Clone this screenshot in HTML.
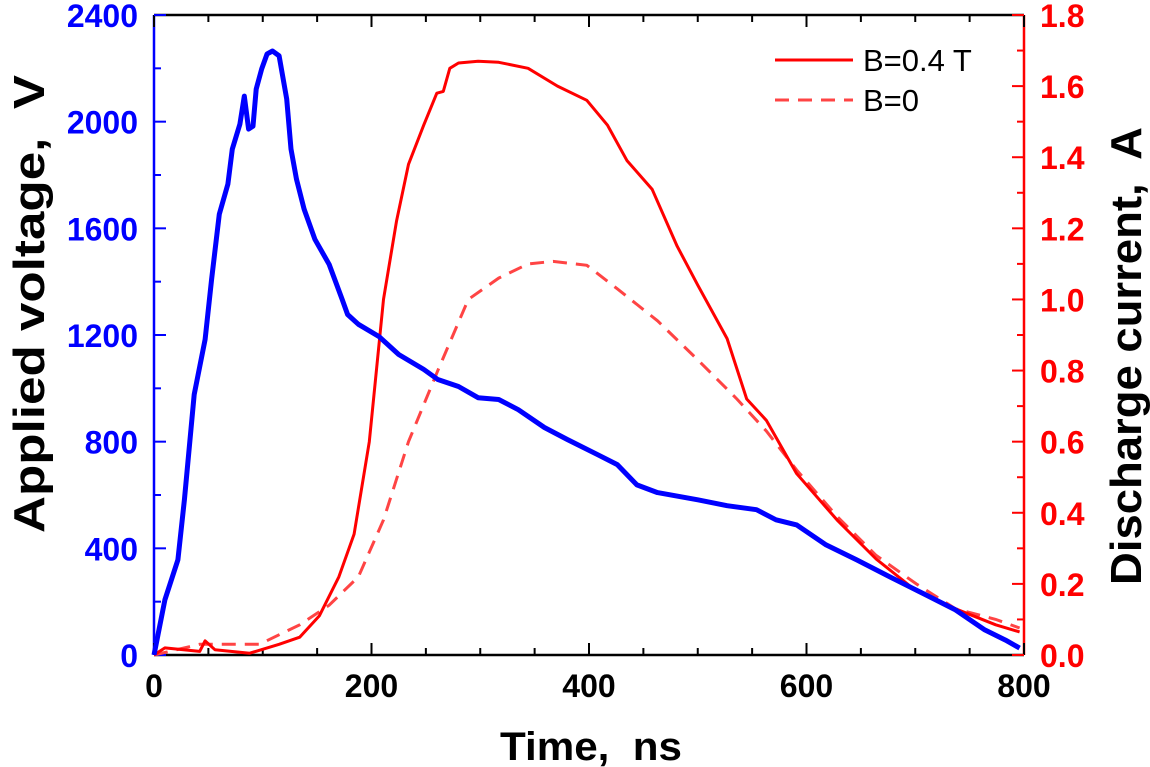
<!DOCTYPE html>
<html><head><meta charset="utf-8"><style>
html,body{margin:0;padding:0;background:#fff;}
svg{display:block;font-family:"Liberation Sans",Arial,sans-serif;}
</style></head><body>
<svg id="chart" width="1150" height="767" viewBox="0 0 1150 767"></svg>
<script>
const voltTime=[0,10,22,28,37,47,53,60,68,72,79,83,87,91,94,99,104,109,115,122,126,131,138,148,161,173,178,188,207,225,248,261,280,298,317,335,359,380,408,426,444,463,500,527,554,572,591,618,646,682,710,737,764,783,796];
const voltValues=[0,207,357,582,977,1183,1409,1653,1766,1897,1991,2096,1972,1983,2122,2198,2254,2265,2247,2085,1897,1784,1672,1559,1465,1334,1277,1240,1194,1127,1071,1033,1007,965,958,920,853,808,751,714,638,609,582,560,545,507,488,413,357,282,225,169,94,56,26];
const curBTime=[0,10,42,47,56,88,115,134,152,170,184,198,211,223,234,248,260,266,272,280,298,317,344,371,398,417,435,458,481,500,527,545,563,591,628,664,701,737,774,796];
const curBValues=[0,0.02,0.01,0.04,0.015,0.005,0.03,0.05,0.11,0.22,0.34,0.6,1.0,1.22,1.38,1.49,1.58,1.585,1.65,1.665,1.67,1.667,1.65,1.6,1.56,1.49,1.39,1.31,1.15,1.04,0.89,0.72,0.66,0.51,0.38,0.27,0.18,0.13,0.085,0.065];
const cur0Time=[0,42,97,134,161,188,211,234,261,289,317,344,367,398,426,463,500,536,563,591,628,664,701,737,774,796];
const cur0Values=[0,0.03,0.03,0.085,0.14,0.22,0.38,0.6,0.8,1.0,1.06,1.1,1.107,1.096,1.03,0.94,0.83,0.72,0.63,0.52,0.39,0.28,0.2,0.13,0.1,0.076];
const xTicks=[0,200,400,600,800];
const yLeftTicks=[0,400,800,1200,1600,2000,2400];
const yRightTicks=[0,0.2,0.4,0.6,0.8,1.0,1.2,1.4,1.6,1.8];

const X0=154,X1=1024,Y0=655,Y1=15;
const sx=t=>X0+(t/800)*(X1-X0);
const syL=v=>Y0-(v/2400)*(Y0-Y1);
const syR=v=>Y0-(v/1.8)*(Y0-Y1);
const svg=document.getElementById('chart');
const NS='http://www.w3.org/2000/svg';
function mk(tag,attrs,parent){const e=document.createElementNS(NS,tag);for(const k in attrs)e.setAttribute(k,attrs[k]);(parent||svg).appendChild(e);return e;}

let e;
e=mk('line',{x1:X0,y1:Y1,x2:X1,y2:Y1,stroke:'#000','stroke-width':2.5});


e=mk('line',{x1:X0,y1:Y0,x2:X1,y2:Y0,stroke:'#000','stroke-width':2.5});


e=mk('line',{x1:X0,y1:Y1,x2:X0,y2:Y0,stroke:'#00f','stroke-width':2.5});


e=mk('line',{x1:X1,y1:Y1,x2:X1,y2:Y0,stroke:'#f00','stroke-width':2.5});



for(let i=0;i<=16;i++){const t=i*50;const maj=i%4===0;
 mk('line',{x1:sx(t),y1:Y0,x2:sx(t),y2:Y0-(maj?12:7),stroke:'#000','stroke-width':2});
 mk('line',{x1:sx(t),y1:Y1,x2:sx(t),y2:Y1+(maj?12:7),stroke:'#000','stroke-width':2});}
xTicks.forEach(t=>{e=mk('text',{x:sx(t),y:697,'text-anchor':'middle','font-size':32,'font-weight':'bold',fill:'#000'});e.textContent=t;

});
for(let i=0;i<=12;i++){const v=i*200;const maj=i%2===0;
 mk('line',{x1:X0,y1:syL(v),x2:X0+(maj?12:7),y2:syL(v),stroke:'#00f','stroke-width':2});}
yLeftTicks.forEach(v=>{e=mk('text',{x:138,y:syL(v)+12,'text-anchor':'end','font-size':32,'font-weight':'bold',fill:'#00f'});e.textContent=v;

});
for(let i=0;i<=18;i++){const v=i*0.1;const maj=i%2===0;
 mk('line',{x1:X1,y1:syR(v),x2:X1-(maj?12:7),y2:syR(v),stroke:'#f00','stroke-width':2});}
yRightTicks.forEach(v=>{e=mk('text',{x:1040,y:syR(v)+12,'text-anchor':'start','font-size':32,'font-weight':'bold',fill:'#f00'});e.textContent=v.toFixed(1);

});

e=mk('text',{x:500,y:760,'font-size':40,'font-weight':'bold',fill:'#000',textLength:182,lengthAdjust:'spacingAndGlyphs'});e.textContent='Time,\u00a0 ns';


e=mk('text',{x:0,y:0,'font-size':44,'font-weight':'bold',fill:'#000',transform:'translate(44,533) rotate(-90)',textLength:458,lengthAdjust:'spacingAndGlyphs'});e.textContent='Applied voltage,\u00a0 V';


e=mk('text',{x:0,y:0,'font-size':44,'font-weight':'bold',fill:'#000',transform:'translate(1141,585) rotate(-90)',textLength:458,lengthAdjust:'spacingAndGlyphs'});e.textContent='Discharge current,\u00a0 A';



function path(ts,vs,sy){return ts.map((t,i)=>(i?'L':'M')+sx(t).toFixed(1)+','+sy(vs[i]).toFixed(1)).join(' ');}
e=mk('path',{d:path(cur0Time,cur0Values,syR),fill:'none',stroke:'#f44','stroke-width':3,'stroke-dasharray':'14,9'});


e=mk('path',{d:path(curBTime,curBValues,syR),fill:'none',stroke:'#f00','stroke-width':3,'stroke-linejoin':'round'});


e=mk('path',{d:path(voltTime,voltValues,syL),fill:'none',stroke:'#00f','stroke-width':5,'stroke-linejoin':'round'});



const lg=mk('g',{});


e=mk('line',{x1:775,y1:60,x2:853,y2:60,stroke:'#f00','stroke-width':3},lg);


e=mk('text',{x:863,y:71,'font-size':31,fill:'#000'},lg);e.textContent='B=0.4 T';


e=mk('line',{x1:775,y1:100,x2:853,y2:100,stroke:'#f44','stroke-width':3,'stroke-dasharray':'14,9'},lg);


e=mk('text',{x:863,y:111,'font-size':31,fill:'#000'},lg);e.textContent='B=0';


</script>
</body></html>
